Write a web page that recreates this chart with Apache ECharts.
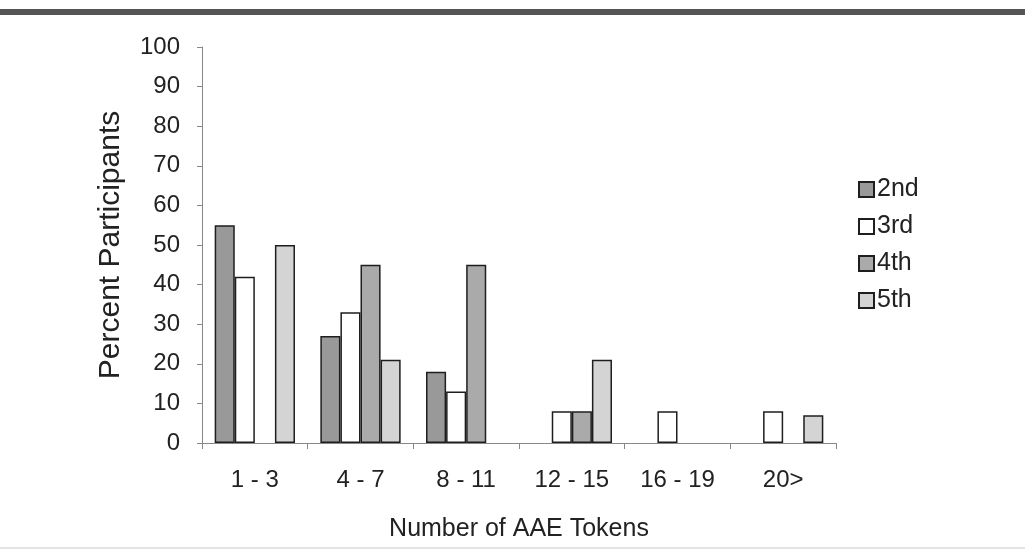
<!DOCTYPE html>
<html>
<head>
<meta charset="utf-8">
<script src="https://cdn.jsdelivr.net/npm/echarts@6/dist/echarts.min.js"></script>
<style>
html,body{margin:0;padding:0;background:#fff;}
#chart{width:1025px;height:550px;}
</style>
</head>
<body>
<div id="chart"></div>
<script>
const categories = ['1 - 3', '4 - 7', '8 - 11', '12 - 15', '16 - 19', '20>'];
const seriesNames = ['2nd', '3rd', '4th', '5th'];
const grade2 = [55, 27, 18, null, null, null];
const grade3 = [42, 33, 13, 8, 8, 8];
const grade4 = [null, 45, 45, 8, null, null];
const grade5 = [50, 21, null, 21, null, 7];
const yTicks = [0, 10, 20, 30, 40, 50, 60, 70, 80, 90, 100];

const seriesData = [grade2, grade3, grade4, grade5];
const fills = ['#999999', '#ffffff', '#aaaaaa', '#d4d4d4'];

const chart = echarts.init(document.getElementById('chart'), null, {renderer: 'canvas'});
const font = 'Liberation Sans, Arial, Helvetica, sans-serif';

chart.setOption({
  animation: false,
  backgroundColor: '#fff',
  grid: {left: 202, right: 189, top: 47, bottom: 107, containLabel: false},
  legend: {
    orient: 'vertical',
    left: 853,
    top: 172,
    itemWidth: 15,
    itemHeight: 15,
    itemGap: 12,
    icon: 'rect',
    textStyle: {fontFamily: font, fontSize: 25, color: '#222', padding: [0, 0, 0, -2]},
    data: seriesNames
  },
  xAxis: {
    type: 'category',
    data: categories,
    name: 'Number of AAE Tokens',
    nameLocation: 'middle',
    nameGap: 74,
    nameTextStyle: {fontFamily: font, fontSize: 25, color: '#222'},
    axisLine: {lineStyle: {color: '#888', width: 1}},
    axisTick: {show: true, length: 6, lineStyle: {color: '#888'}},
    axisLabel: {fontFamily: font, fontSize: 24, color: '#222', margin: 25}
  },
  yAxis: {
    type: 'value',
    min: 0,
    max: 100,
    interval: 10,
    name: 'Percent Participants',
    nameLocation: 'middle',
    nameGap: 76,
    nameTextStyle: {fontFamily: font, fontSize: 30, color: '#222'},
    axisLine: {show: true, lineStyle: {color: '#888', width: 1}},
    axisTick: {show: true, length: 5, lineStyle: {color: '#888'}},
    axisLabel: {fontFamily: font, fontSize: 24, color: '#222', margin: 22,
      formatter: function (v) { return yTicks.indexOf(v) >= 0 ? String(v) : ''; }},
    splitLine: {show: false}
  },
  graphic: [
    {type: 'rect', left: 0, top: 9, shape: {width: 1025, height: 6}, style: {fill: '#555'}, silent: true},
    {type: 'rect', left: 0, top: 547, shape: {width: 1025, height: 2}, style: {fill: '#e4e4e4'}, silent: true}
  ],
  series: seriesNames.map(function (name, i) {
    return {
      name: name,
      type: 'bar',
      data: seriesData[i],
      barGap: '0%',
      barCategoryGap: '24%',
      itemStyle: {color: fills[i], borderColor: '#1e1e1e', borderWidth: 1.5}
    };
  })
});
</script>
</body>
</html>
